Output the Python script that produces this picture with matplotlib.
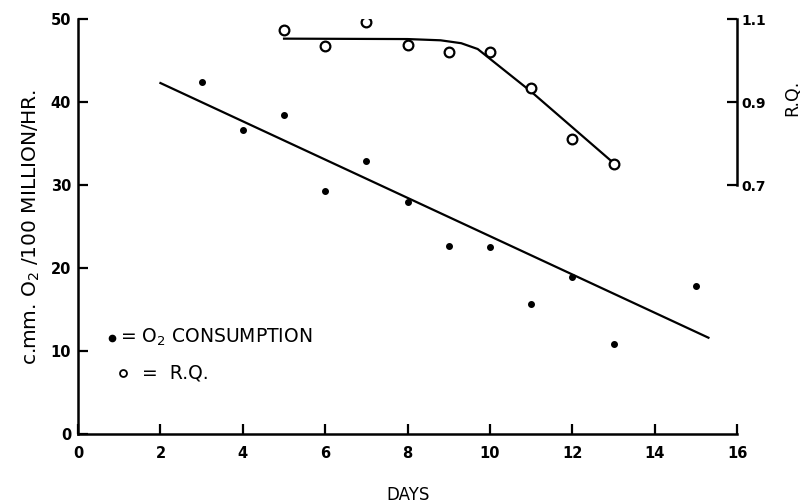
import matplotlib.pyplot as plt

# O2 consumption (c.mm. O2 / 100 million / hr)
o2_days = [3, 4, 5, 6, 7, 8, 9, 10, 11, 12, 13, 15]
o2_vals = [42.4, 36.6, 38.5, 29.3, 32.9, 28.0, 22.6, 22.5, 15.7, 18.9, 10.8, 17.8]

# fitted O2 line
o2_fit_days = [2, 15.3]
o2_fit_vals = [42.3, 11.6]

# respiratory quotient
rq_days = [5, 6, 7, 8, 9, 10, 11, 12, 13]
rq_vals = [1.073, 1.035, 1.093, 1.037, 1.020, 1.020, 0.934, 0.811, 0.751]

# fitted RQ curve
rq_fit_days = [5, 8, 8.8, 9.3, 9.7, 11, 13]
rq_fit_vals = [1.053, 1.052, 1.049, 1.042, 1.028, 0.925, 0.753]

fig = plt.figure(figsize=(8.02, 5.04), dpi=100)
ax = fig.add_axes([0.0973, 0.139, 0.822, 0.823])

ax.plot(o2_days, o2_vals, 'o', color='black', markersize=4)
ax.plot(o2_fit_days, o2_fit_vals, color='black', lw=1.6)

ax.set_xlim(0, 16)
ax.set_ylim(0, 50)
ax.set_xticks(range(0, 17, 2))
ax.set_yticks(range(0, 51, 10))
ax.spines['top'].set_visible(False)
ax.spines['right'].set_visible(False)
ax.spines['left'].set_linewidth(1.8)
ax.spines['bottom'].set_linewidth(1.8)
ax.tick_params(direction='in', length=7, width=1.6, labelsize=10.5)
ax.tick_params(axis='x', pad=9)
ax.tick_params(axis='y', pad=5)
for lbl in ax.get_xticklabels() + ax.get_yticklabels():
    lbl.set_fontweight('bold')

ax.set_ylabel('c.mm. O$_2$ /100 MILLION/HR.', fontsize=14.5, labelpad=6)
ax.set_xlabel('DAYS', fontsize=12, labelpad=18)

ax2 = ax.twinx()
ax2.plot(rq_days, rq_vals, 'o', markerfacecolor='white', markeredgecolor='black',
         markersize=7, markeredgewidth=1.6)
ax2.plot(rq_fit_days, rq_fit_vals, color='black', lw=1.6, zorder=1)
ax2.set_ylim(0.1, 1.1)
ax2.set_yticks([0.7, 0.9, 1.1])
ax2.set_yticklabels(['0.7', '0.9', '1.1'])
for s in ['top', 'left', 'bottom']:
    ax2.spines[s].set_visible(False)
ax2.spines['right'].set_bounds(0.7, 1.1)
ax2.spines['right'].set_linewidth(1.8)
ax2.tick_params(direction='in', length=7, width=1.6, labelsize=10, pad=3)
for lbl in ax2.get_yticklabels():
    lbl.set_fontweight('bold')
ax2.set_ylabel('R.Q.', fontsize=12.5)
ax2.yaxis.set_label_coords(1.07, 0.81)

# hand-drawn legend
ax.plot([0.83], [11.6], 'o', color='black', markersize=4.5)
ax.text(1.02, 11.6, '= O$_2$ CONSUMPTION', fontsize=13.5, va='center')
ax.plot([1.08], [7.3], 'o', markerfacecolor='white', markeredgecolor='black',
        markersize=5, markeredgewidth=1.3)
ax.text(1.55, 7.3, '=  R.Q.', fontsize=13.5, va='center')

fig.savefig('out.png', dpi=100)
